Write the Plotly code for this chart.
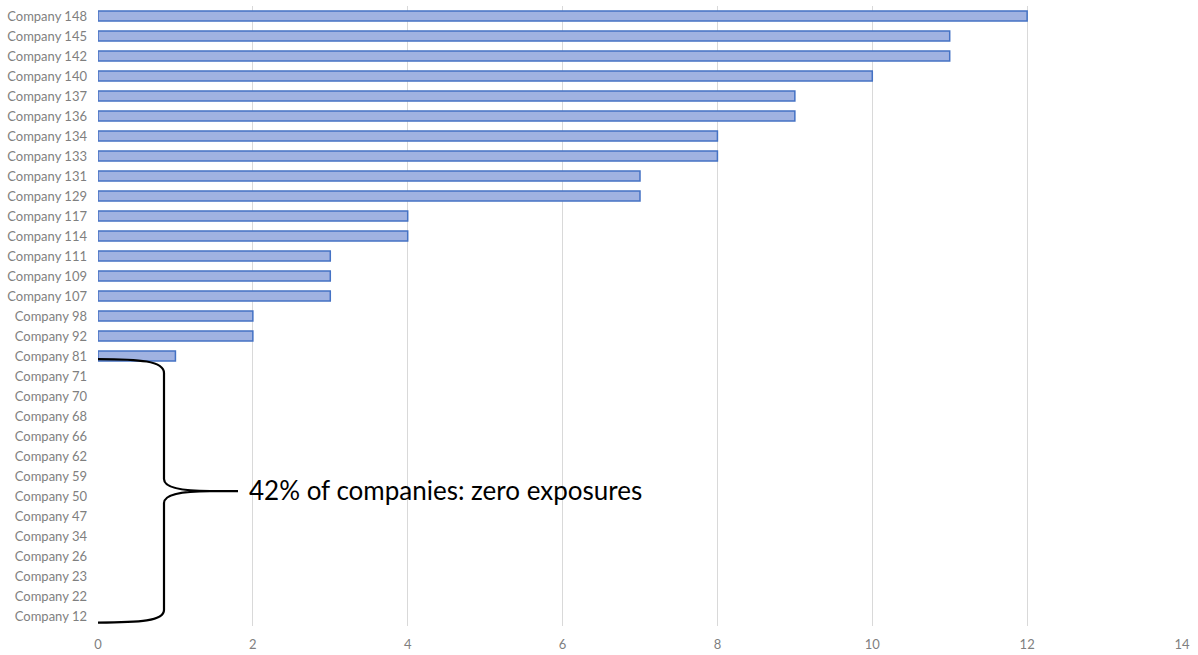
import plotly.graph_objects as go

# Exposure counts per company (top to bottom)
companies = [
    "Company 148", "Company 145", "Company 142", "Company 140", "Company 137",
    "Company 136", "Company 134", "Company 133", "Company 131", "Company 129",
    "Company 117", "Company 114", "Company 111", "Company 109", "Company 107",
    "Company 98", "Company 92", "Company 81", "Company 71", "Company 70",
    "Company 68", "Company 66", "Company 62", "Company 59", "Company 50",
    "Company 47", "Company 34", "Company 26", "Company 23", "Company 22",
    "Company 12",
]
exposures = [12, 11, 11, 10, 9, 9, 8, 8, 7, 7, 4, 4, 3, 3, 3, 2, 2, 1,
             0, 0, 0, 0, 0, 0, 0, 0, 0, 0, 0, 0, 0]
x_ticks = [0, 2, 4, 6, 8, 10, 12, 14]
note_text = "42% of companies: zero exposures"

W, H = 1198, 655
M_L, M_R, M_T, M_B = 98, 16, 6, 29
PW, PH = W - M_L - M_R, H - M_T - M_B
X_MAX = 14


def px_x(px):
    """Pixel column -> x data units."""
    return (px - M_L) / PW * X_MAX


def px_y(py):
    """Pixel row -> paper fraction."""
    return (H - M_B - py) / PH


# zero-valued bars get no outline so nothing is drawn for them
outline_w = [1.5 if v > 0 else 0 for v in exposures]

fig = go.Figure(go.Bar(
    x=exposures,
    y=companies,
    orientation="h",
    marker=dict(color="#A0B2E1", line=dict(color="#4472C4", width=outline_w)),
    width=0.5,
))

# Curly brace grouping the companies with no exposures
pts = [
    ("M", [(98, 359)]),
    ("C", [(140, 359), (164, 361), (164, 373)]),
    ("L", [(164, 479)]),
    ("C", [(164, 488), (185, 491), (210, 491)]),
    ("L", [(238, 491)]),
    ("M", [(210, 491)]),
    ("C", [(185, 491), (164, 494), (164, 503)]),
    ("L", [(164, 610)]),
    ("C", [(164, 621), (140, 622.5), (98, 622.5)]),
]
path = " ".join(
    cmd + " " + " ".join(f"{px_x(a):.4f},{px_y(b):.4f}" for a, b in p)
    for cmd, p in pts
)
fig.add_shape(type="path", path=path, xref="x", yref="paper",
              line=dict(color="black", width=2.2))

fig.add_annotation(text=note_text, x=px_x(247), y=px_y(490), xref="x", yref="paper",
                   xanchor="left", yanchor="middle", showarrow=False,
                   font=dict(family="Lato", size=26, color="black"))

fig.update_layout(
    width=W, height=H,
    margin=dict(l=M_L, r=M_R, t=M_T, b=M_B),
    plot_bgcolor="white", paper_bgcolor="white",
    showlegend=False,
    font=dict(family="Lato", size=13, color="#7F7F7F"),
    bargap=0.5,
)
fig.update_xaxes(range=[0, X_MAX], tickvals=x_ticks, showgrid=True,
                 gridcolor="#D9D9D9", gridwidth=1, zeroline=False,
                 showline=False, ticks="", ticklabelstandoff=9,
                 automargin=False)
fig.update_yaxes(categoryorder="array", categoryarray=companies,
                 autorange="reversed", showgrid=False, zeroline=False,
                 showline=False, ticks="", ticklabelstandoff=10,
                 automargin=False)

fig.write_html("out.html")
